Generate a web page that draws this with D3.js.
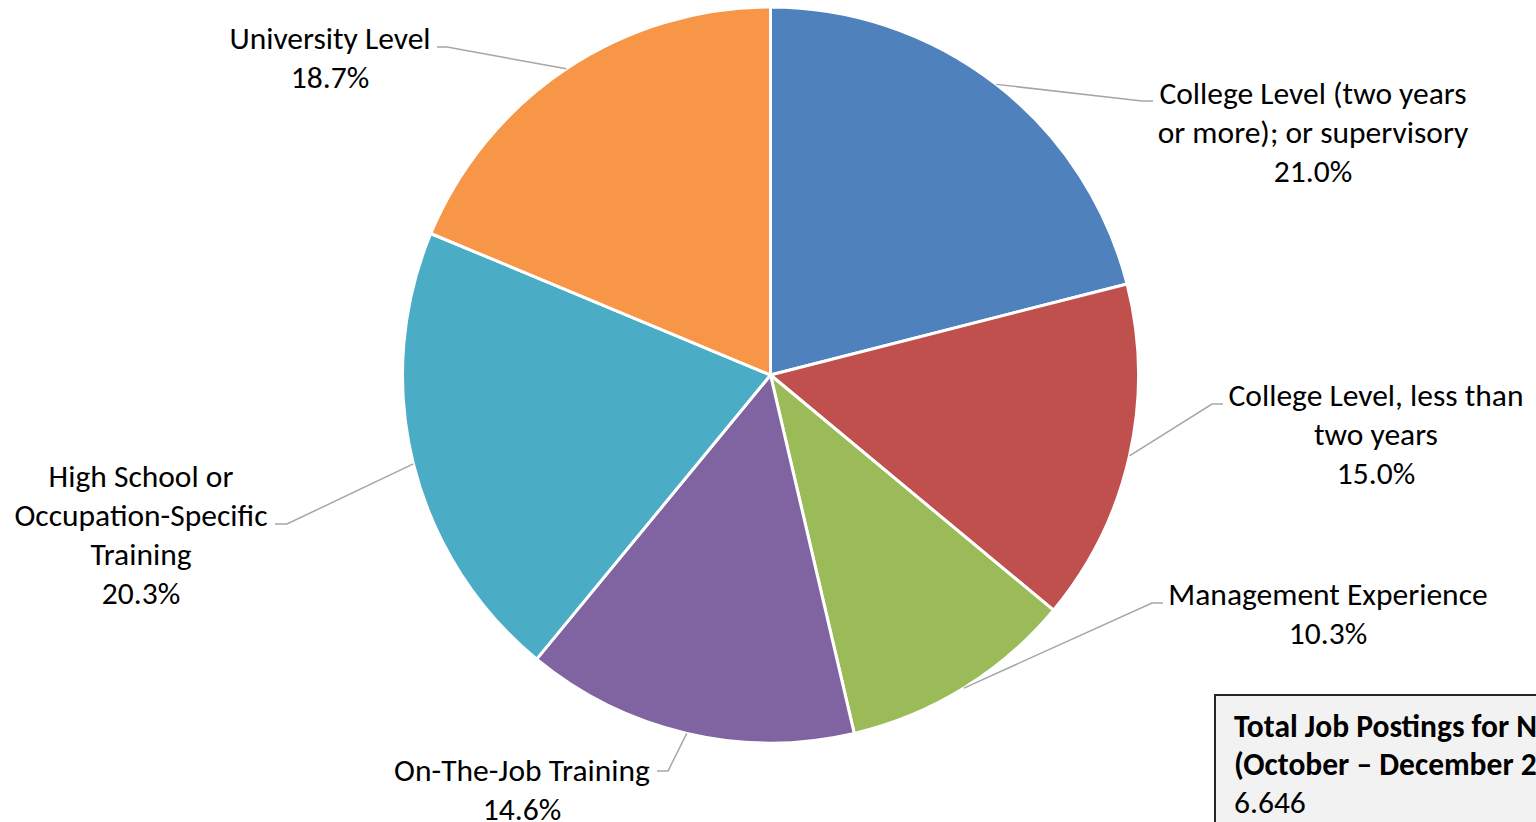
<!DOCTYPE html>
<html><head><meta charset="utf-8">
<script src="https://cdn.jsdelivr.net/npm/d3@7"></script>
<style>html,body{margin:0;padding:0;background:#fff;overflow:hidden}svg{display:block}</style>
</head><body>
<svg id="chart" width="1536" height="822"></svg>
<script>
const categories = ["College Level (two years or more); or supervisory","College Level, less than two years","Management Experience","On-The-Job Training","High School or Occupation-Specific Training","University Level"];
const labelLines = [["College Level (two years","or more); or supervisory"],["College Level, less than","two years"],["Management Experience"],["On-The-Job Training"],["High School or","Occupation-Specific","Training"],["University Level"]];
const values = [21.0, 15.0, 10.3, 14.6, 20.3, 18.7];
const colors = ["#4F81BD","#C0504D","#9BBB59","#8064A2","#4BACC6","#F79646"];
const boxTitle = ["Total Job Postings for New Brunswick","(October – December 2023)"];
const boxValue = "6.646";

// layout (label placement)
const layout = [
  {cx:1313, cy:93, ex:1142, ey:101, tx:1153},
  {cx:1376, cy:395, ex:1212, ey:404, tx:1223},
  {cx:1328, cy:594, ex:1152, ey:603, tx:1163},
  {cx:522, cy:770, ex:668, ey:771, tx:657},
  {cx:141, cy:476, ex:287, ey:524, tx:275},
  {cx:330, cy:38, ex:447, ey:47, tx:437}
];

const W=1536,H=822, CX=770.5, CY=375, R=368;
const fs=31.5, lh=39;
const font="Carlito, Calibri, Lato, 'Open Sans', sans-serif";
const svg=d3.select("#chart");
const pie=d3.pie().sort(null).value(d=>d)(values);
const arc=d3.arc().innerRadius(0).outerRadius(R);
const g=svg.append("g").attr("transform",`translate(${CX},${CY})`);
g.selectAll("path").data(pie).join("path")
  .attr("d",arc).attr("fill",(d,i)=>colors[i])
  .attr("stroke","#fff").attr("stroke-width",3).attr("stroke-linejoin","round");

const fmt=d3.format(".1f");
pie.forEach((d,i)=>{
  const a=(d.startAngle+d.endAngle)/2;
  const px=CX+R*Math.sin(a), py=CY-R*Math.cos(a);
  const L=layout[i];
  svg.append("polyline")
    .attr("points",`${px},${py} ${L.ex},${L.ey} ${L.tx},${L.ey}`)
    .attr("fill","none").attr("stroke","#A6A6A6").attr("stroke-width",1.5);
  const lines=[...labelLines[i], fmt(values[i])+"%"];
  const t=svg.append("text").attr("text-anchor","middle")
    .attr("font-family",font).attr("font-size",fs).attr("fill","#000");
  lines.forEach((s,k)=>{
    t.append("tspan").attr("x",L.cx).attr("y",L.cy+k*lh+fs*0.35).text(s);
  });
});

// info box
svg.append("rect").attr("x",1215).attr("y",695).attr("width",400).attr("height",140)
  .attr("fill","#F2F2F2").attr("stroke","#262626").attr("stroke-width",2);
const bt=svg.append("text").attr("font-family",font).attr("font-size",fs).attr("fill","#000");
boxTitle.forEach((s,k)=>{
  bt.append("tspan").attr("x",1234).attr("y",726+k*38+fs*0.35).attr("font-weight","bold").text(s);
});
bt.append("tspan").attr("x",1234).attr("y",726+2*38+fs*0.35).text(boxValue);
</script>
</body></html>
